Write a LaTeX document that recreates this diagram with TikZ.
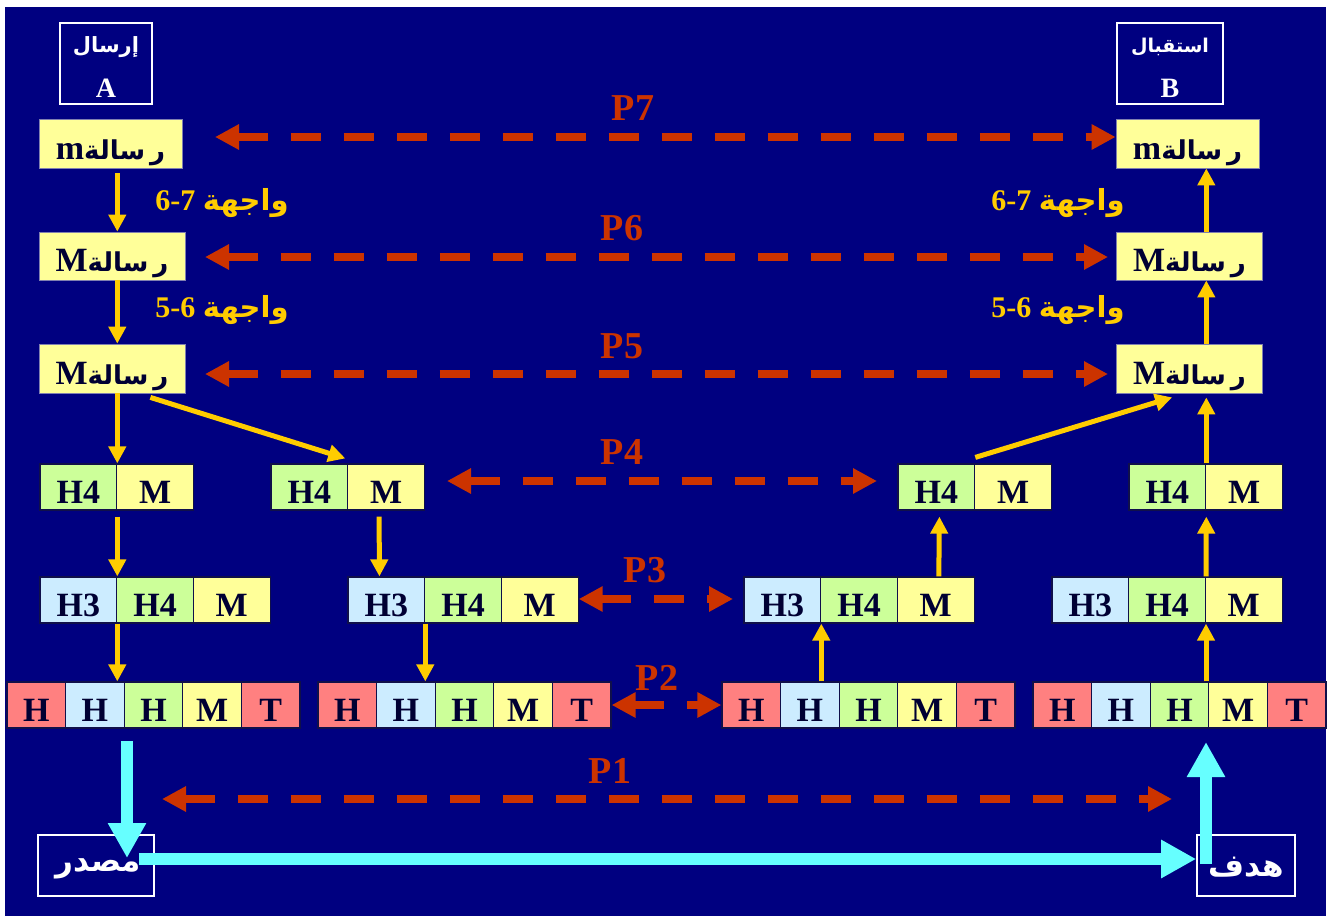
\documentclass[tikz,border=0pt]{standalone}
\usepackage{fontspec}
\setmainfont{Liberation Serif}
\newfontfamily\arabicfont[Script=Arabic]{DejaVu Sans}
\TeXXeTstate=1
\usetikzlibrary{arrows.meta,calc}
\definecolor{navybg}{HTML}{000080}
\definecolor{cY}{HTML}{FFFF99}
\definecolor{cG}{HTML}{CCFF99}
\definecolor{cB}{HTML}{CCECFF}
\definecolor{cR}{HTML}{FF8080}
\definecolor{txt}{HTML}{000033}
\definecolor{pred}{HTML}{CC3300}
\definecolor{ay}{HTML}{FFCC00}
\definecolor{cy}{HTML}{66FFFF}
\definecolor{cellline}{HTML}{10104A}
\definecolor{boxline}{HTML}{8080B0}
\newcommand{\ar}[2]{{\arabicfont\bfseries\fontsize{#1}{#1}\selectfont\beginR #2\endR}}
\newcommand{\risala}{\ar{26}{ر\kern5pt سالة}}
\begin{document}
\begin{tikzpicture}[x=1pt,y=-1pt,
  cell/.style={draw=cellline, line width=1.2pt, inner sep=0pt, minimum height=46pt,
    text height=33pt, text depth=0pt, font=\bfseries\fontsize{34}{34}\selectfont, text=txt},
  cw/.style={cell, minimum width=76.7pt},
  cn/.style={cell, minimum width=58.6pt},
  mbox/.style={fill=cY, draw=boxline, line width=0.8pt, inner sep=0pt, text=txt,
    text height=31pt, text depth=0pt, font=\bfseries\fontsize{34}{34}\selectfont},
  wbox/.style={draw=white, line width=1.6pt, inner sep=0pt},
  wtext/.style={text=white, inner sep=0pt, font=\bfseries\fontsize{28}{28}\selectfont},
  plab/.style={text=pred, inner sep=0pt, font=\bfseries\fontsize{38}{38}\selectfont},
  iface/.style={text=ay, inner sep=0pt, font=\bfseries\fontsize{30}{30}\selectfont},
  pa/.style={draw=pred, line width=8pt, dash pattern=on 30pt off 23pt,
    {Triangle[length=24pt,width=24pt]}-{Triangle[length=24pt,width=24pt]}},
  ya/.style={draw=ay, line width=5pt, -{Triangle[length=17pt,width=17pt]}},
  ca/.style={draw=cy, line width=12pt, -{Triangle[length=35pt,width=36pt]}}
]
\fill[white] (0,0) rectangle (1328,916);
\fill[navybg] (5,7) rectangle (1326,916);
\useasboundingbox (0,0) rectangle (1328,916);

% top labels
\node[wbox, minimum width=92pt, minimum height=81pt] (sendbox) at (106,63.5) {};
\node[wtext] (sendar) at (106,47) {\ar{21}{إرسال}};
\node[wtext] (sendA) at (106,88) {A};
\node[wbox, minimum width=106pt, minimum height=81pt] (recvbox) at (1170,63.5) {};
\node[wtext] (recvar) at (1170,47) {\ar{19}{استقبال}};
\node[wtext] (recvB) at (1170,88) {B};

% message boxes
\node[mbox, minimum width=143pt, minimum height=49pt] (mL) at (110.5,143.5) {m\risala};
\node[mbox, minimum width=143pt, minimum height=49pt] (mR) at (1187.5,143.5) {m\risala};
\node[mbox, minimum width=146pt, minimum height=48pt] (M2L) at (112,256) {M\risala};
\node[mbox, minimum width=146pt, minimum height=48pt] (M2R) at (1189.5,256) {M\risala};
\node[mbox, minimum width=146pt, minimum height=49pt] (M3L) at (112,368.5) {M\risala};
\node[mbox, minimum width=146pt, minimum height=49pt] (M3R) at (1189.5,368.5) {M\risala};

% row 4: H4 M
\foreach \g/\s in {a/40,b/271,c/898,d/1129}{
  \node[cw, fill=cG] (r4\g1) at ({\s+38.35},487) {H4};
  \node[cw, fill=cY] (r4\g2) at ({\s+38.35+76.7},487) {M};
}
% row 5: H3 H4 M
\foreach \g/\s in {a/40,b/348,c/744,d/1052}{
  \node[cw, fill=cB] (r5\g1) at ({\s+38.35},600) {H3};
  \node[cw, fill=cG] (r5\g2) at ({\s+38.35+76.7},600) {H4};
  \node[cw, fill=cY] (r5\g3) at ({\s+38.35+153.4},600) {M};
}
% row 6: H H H M T
\foreach \g/\s in {a/7,b/318,c/722,d/1033}{
  \foreach \i/\c/\t in {1/cR/H,2/cB/H,3/cG/H,4/cY/M,5/cR/T}{
    \node[cn, fill=\c] (r6\g\i) at ({\s+29.3+58.6*(\i-1)},705) {\t};
  }
}

% interface labels
\node[iface] (i67L) at (222,203) {6-7 \ar{29}{واجهة}};
\node[iface] (i56L) at (222,310) {5-6 \ar{29}{واجهة}};
\node[iface] (i67R) at (1058,203) {6-7 \ar{29}{واجهة}};
\node[iface] (i56R) at (1058,310) {5-6 \ar{29}{واجهة}};

% bottom boxes
\node[wbox, minimum width=116pt, minimum height=61pt] (src) at (96,865.5) {};
\node[wtext] (srctxt) at (98,869) {\ar{31}{مصدر}};
\node[wbox, minimum width=98pt, minimum height=61pt] (dst) at (1246,865.5) {};
\node[wtext] (dsttxt) at (1246,867) {\ar{31}{هدف}};

% peer protocol arrows
\coordinate (p7l) at (215,137);
\draw[pa] (p7l) -- (p7l -| mR.west);
\coordinate (p6l) at (205,257); \coordinate (p6r) at (1108,257);
\draw[pa] (p6l) -- (p6r);
\coordinate (p5l) at (205,374); \coordinate (p5r) at (1108,374);
\draw[pa] (p5l) -- (p5r);
\coordinate (p4l) at (447,481); \coordinate (p4r) at (877,481);
\draw[pa] (p4l) -- (p4r);
\coordinate (p3r) at (733,599);
\draw[pa] (r5b3.east |- p3r) -- (p3r);
\draw[pa] (r6b5.east) -- (r6c1.west);
\coordinate (p1l) at (162,799); \coordinate (p1r) at (1172,799);
\draw[pa] (p1l) -- (p1r);

\node[plab] (P7) at (633,108) {P7};
\node[plab] (P6) at (622,228) {P6};
\node[plab] (P5) at (622,346) {P5};
\node[plab] (P4) at (622,452) {P4};
\node[plab] (P3) at (645,570) {P3};
\node[plab] (P2) at (657,678) {P2};
\node[plab] (P1) at (610,771) {P1};

% yellow arrows, sender side
\draw[ya, shorten <=5pt] (mL.south -| r4a1.east) -- (M2L.north -| r4a1.east);
\draw[ya] (M2L.south -| r4a1.east) -- (M3L.north -| r4a1.east);
\draw[ya] (M3L.south -| r4a1.east) -- (r4a1.north east);
\draw[ya, shorten <=6pt] (r4a1.south east) -- (r5a1.north east);
\draw[ya] (r5a1.south east) -- (r5a1.south east |- r6a2.north);
\draw[ya] ($(M3L.south east)+(-35,4)$) -- ($(r4b1.north east)+(-3,-5)$);
\draw[ya, shorten <=6pt] ($(r4b2.south west)+(32,0)$) -- ($(r5b1.north west)+(32,0)$);
\draw[ya] (r5b1.south east) -- (r5b1.south east |- r6b2.north);

% yellow arrows, receiver side
\draw[ya] (r5c1.south east |- r6c2.north) -- (r5c1.south east);
\draw[ya] ($(r5c3.north west)+(42,0)$) -- ($(r4c1.south west)+(42,6)$);
\draw[ya] ($(r4c1.north east)+(0,-6)$) -- ($(M3R.south west)+(56,4)$);
\draw[ya] (r5d2.south east |- r6d3.north) -- (r5d2.south east);
\draw[ya] (r5d2.north east) -- ($(r4d1.south east)+(0,6)$);
\draw[ya] (r4d1.north east) -- ($(M3R.south -| r4d1.east)+(0,4)$);
\draw[ya] (M3R.north -| r4d1.east) -- (M2R.south -| r4d1.east);
\draw[ya] (M2R.north -| r4d1.east) -- (mR.south -| r4d1.east);

% physical medium (cyan)
\coordinate (c1) at (127,741);
\coordinate (c2) at (127,858);
\draw[ca] (c1) -- (c2);
\coordinate (c3) at (139,859);
\draw[ca] (c3) -- (c3 -| dst.west);
\coordinate (c4) at (1206,864);
\coordinate (c5) at (1206,742);
\draw[ca] (c4) -- (c5);
\end{tikzpicture}
\end{document}
